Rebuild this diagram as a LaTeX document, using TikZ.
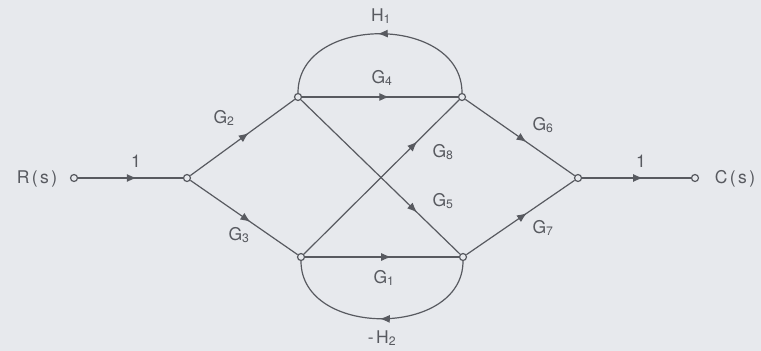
\documentclass[tikz,border=0pt]{standalone}
\usepackage{fontspec}
\setmainfont[LetterSpace=14]{TeX Gyre Heros}
\usetikzlibrary{
  arrows.meta,
  decorations.markings
}
\definecolor{ink}{RGB}{88,90,96}
\definecolor{paper}{RGB}{231,233,237}

\begin{document}
\begin{tikzpicture}[x=1pt,y=-1pt,> =Latex]
  \tikzset{
    sig/.style={circle,draw=ink,fill=paper,line width=1.2pt,inner sep=0pt,minimum size=7pt},
    gain/.style={text=ink,font=\fontsize{17.5}{20}\selectfont},
    branch/.style={draw=ink,line width=1.2pt,postaction={decorate},
      decoration={markings,
        mark=at position #1 with {\arrow[ink]{Latex[length=10pt,width=8pt]}}}},
    branch/.default=0.56,
  }
  \fill[paper] (0,0) rectangle (761,351);
  \useasboundingbox (0,0) rectangle (761,351);

  % signal nodes
  \node[sig] (R) at (74,178) {};
  \node[sig] (n1) at (187,178) {};
  \node[sig] (A) at (298,97) {};
  \node[sig] (B) at (462,97) {};
  \node[sig] (C) at (301,257) {};
  \node[sig] (D) at (463,257) {};
  \node[sig] (E) at (578,178) {};
  \node[sig] (Cs) at (695,178) {};

  % branches
  \draw[branch] (R) -- (n1);
  \draw[branch] (n1) -- (A);
  \draw[branch] (n1) -- (C);
  \draw[branch] (A) -- (B);
  \draw[branch] (C) -- (D);
  \draw[branch=0.73] (A) -- (D);
  \draw[branch=0.73] (C) -- (B);
  \draw[branch] (B) -- (E);
  \draw[branch] (D) -- (E);
  \draw[branch] (E) -- (Cs);
  \draw[branch=0.51] (B) .. controls +(0,-83) and +(0,-83) .. (A);
  \draw[branch=0.51] (D) .. controls +(0,81) and +(0,81) .. (C);

  % gains
  \node[gain] (lR) at (37,179) {R(s)};
  \node[gain] (lCs) at (735,179) {C(s)};
  \node[gain] (lin) at (136,161) {1};
  \node[gain] (lout) at (641,161) {1};
  \node[gain] (lH1) at (381,16) {H\textsubscript{1}};
  \node[gain] (lG4) at (382,78) {G\textsubscript{4}};
  \node[gain] (lG1) at (384,278) {G\textsubscript{1}};
  \node[gain] (lH2) at (382,338) {-H\textsubscript{2}};
  \node[gain] (lG2) at (224,118) {G\textsubscript{2}};
  \node[gain] (lG3) at (239,235) {G\textsubscript{3}};
  \node[gain] (lG6) at (543,125) {G\textsubscript{6}};
  \node[gain] (lG7) at (543,228) {G\textsubscript{7}};
  \node[gain] (lG8) at (443,152) {G\textsubscript{8}};
  \node[gain] (lG5) at (443,201) {G\textsubscript{5}};
\end{tikzpicture}
\end{document}
